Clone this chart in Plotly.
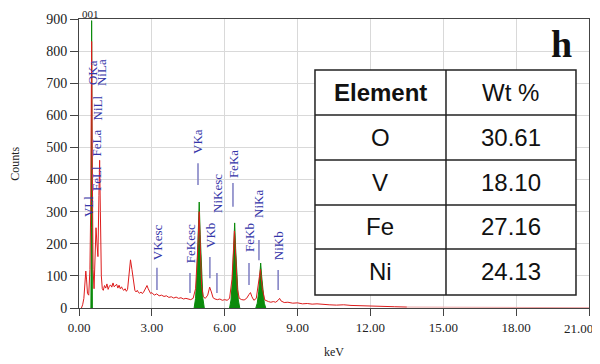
import plotly.graph_objects as go

# ---------------- data ----------------
energy_kev = [0.10, 0.15, 0.20, 0.25, 0.28, 0.31, 0.35, 0.40, 0.45, 0.48, 0.52, 0.55, 0.58, 0.62, 0.66,
              0.70, 0.74, 0.78, 0.82, 0.85, 0.88, 0.92, 0.96, 1.00, 1.05, 1.10, 1.15, 1.20, 1.25, 1.30,
              1.35, 1.40, 1.45, 1.50, 1.55, 1.60, 1.65, 1.70, 1.75, 1.80, 1.85, 1.90, 1.95, 2.00, 2.05,
              2.12, 2.18, 2.25, 2.30, 2.35, 2.40, 2.45, 2.50, 2.55, 2.60, 2.65, 2.70, 2.75, 2.80, 2.85,
              2.90, 2.95, 3.00, 3.05, 3.10, 3.20, 3.30, 3.40, 3.50, 3.60, 3.70, 3.80, 3.90, 4.00, 4.10,
              4.20, 4.30, 4.40, 4.50, 4.60, 4.70, 4.80, 4.90, 4.95, 5.00, 5.05, 5.12, 5.20, 5.30, 5.38,
              5.45, 5.52, 5.60, 5.70, 5.80, 5.90, 6.00, 6.10, 6.20, 6.30, 6.40, 6.46, 6.52, 6.60, 6.70,
              6.80, 6.90, 7.00, 7.06, 7.12, 7.20, 7.30, 7.40, 7.47, 7.55, 7.65, 7.80, 7.90, 8.00, 8.10,
              8.20, 8.26, 8.32, 8.45, 8.60, 8.80, 9.00, 9.20, 9.40, 9.60, 9.80, 10.00, 10.30, 10.60, 10.90,
              11.20, 11.50, 11.80, 12.10, 12.40, 12.70, 13.00, 13.50]
counts = [0, 10, 30, 70, 115, 90, 45, 40, 120, 300, 830, 400, 120, 60, 150,
          250, 200, 160, 350, 460, 300, 100, 60, 55, 70, 62, 75, 58, 68, 72,
          65, 78, 66, 70, 74, 62, 71, 60, 66, 58, 55, 60, 52, 58, 90,
          150, 120, 70, 55, 50, 55, 48, 46, 50, 45, 48, 55, 62, 70, 60,
          52, 45, 48, 42, 40, 44, 38, 40, 36, 38, 33, 35, 31, 34, 30,
          32, 28, 30, 27, 26, 30, 60, 200, 300, 180, 70, 35, 30, 40, 65,
          50, 32, 28, 26, 28, 24, 26, 24, 30, 90, 240, 150, 60, 30, 26,
          25, 30, 42, 48, 35, 24, 30, 90, 120, 60, 25, 20, 18, 20, 18,
          24, 30, 22, 17, 18, 15, 16, 13, 14, 12, 13, 11, 10, 9, 10,
          8, 7, 8, 6, 5, 5, 4, 3]

tail_kev = [13.50, 14.00, 15.00, 16.00, 17.00, 18.00, 19.00, 20.00, 21.00]
tail_counts = [3, 3, 2, 2, 1, 1, 1, 1, 1]

# fitted (green) peaks
o_kev = [0.49, 0.51, 0.52, 0.53, 0.55]
o_counts = [0, 250, 895, 250, 0]
v_kev = [4.74, 4.80, 4.86, 4.91, 4.95, 4.99, 5.04, 5.10, 5.16]
v_counts = [0, 30, 110, 230, 330, 230, 110, 30, 0]
fe_kev = [6.20, 6.26, 6.32, 6.37, 6.41, 6.45, 6.50, 6.56, 6.62]
fe_counts = [0, 25, 90, 185, 265, 185, 90, 25, 0]
ni_kev = [7.28, 7.34, 7.40, 7.45, 7.48, 7.52, 7.57, 7.63, 7.69]
ni_counts = [0, 15, 50, 100, 140, 100, 50, 15, 0]

# peak identification labels: name, energy, text-centre count, marker line bottom, marker line top
line_names = ["VKesc", "FeKesc", "VKa", "VKb", "NiKesc", "FeKa", "FeKb", "NiKa", "NiKb"]
line_kev = [3.21, 4.57, 4.90, 5.39, 5.68, 6.34, 7.00, 7.41, 8.20]
line_text_y = [205, 202, 517, 227, 358, 448, 218, 324, 193]
line_mark_lo = [56, 47, 383, 93, 47, 315, 72, 149, 56]
line_mark_hi = [125, 109, 451, 159, 109, 389, 140, 212, 118]

low_names = ["VLl", "FeLl", "FeLa", "NiLl", "OKa", "NiLa"]
low_kev = [0.42, 0.74, 0.72, 0.76, 0.58, 0.95]
low_text_y = [315, 405, 514, 623, 732, 732]

# composition table
elements = ["O", "V", "Fe", "Ni"]
wt_pct = ["30.61", "18.10", "27.16", "24.13"]

x_ticks = [0, 3, 6, 9, 12, 15, 18, 21]
x_tick_text = ["0.00", "3.00", "6.00", "9.00", "12.00", "15.00", "18.00", "21.00"]
y_ticks = [0, 100, 200, 300, 400, 500, 600, 700, 800, 900]

# ---------------- figure ----------------
GREEN = "#0a8a0a"
RED = "#dd1c1c"
BLUE = "#3535a8"
SERIF = "Liberation Serif"
SANS = "Liberation Sans"

fig = go.Figure()
for xs, ys in [(o_kev, o_counts), (v_kev, v_counts), (fe_kev, fe_counts), (ni_kev, ni_counts)]:
    fig.add_trace(go.Scatter(x=xs, y=ys, mode="lines", fill="tozeroy",
                             line=dict(color=GREEN, width=1), fillcolor=GREEN,
                             showlegend=False, hoverinfo="skip"))
fig.add_trace(go.Scatter(x=energy_kev, y=counts, mode="lines",
                         line=dict(color=RED, width=1), showlegend=False))
fig.add_trace(go.Scatter(x=tail_kev, y=tail_counts, mode="lines",
                         line=dict(color="#eba3a3", width=1), showlegend=False))

annotations = []
shapes = []
for name, xk, ty, lo, hi in zip(line_names, line_kev, line_text_y, line_mark_lo, line_mark_hi):
    annotations.append(dict(x=xk, y=ty, xref="x", yref="y", text=name, textangle=-90,
                            showarrow=False, font=dict(family=SERIF, size=13, color=BLUE)))
    shapes.append(dict(type="line", x0=xk, x1=xk, y0=lo, y1=hi, xref="x", yref="y",
                       line=dict(color="#7d7dc2", width=1.5)))
for name, xk, ty in zip(low_names, low_kev, low_text_y):
    annotations.append(dict(x=xk, y=ty, xref="x", yref="y", text=name, textangle=-90,
                            showarrow=False, font=dict(family=SERIF, size=13, color=BLUE)))

# table (positioned in paper fractions of the plot area)
tx0, tx1, tcol = 0.4627, 0.9745, 0.7196
row_edges = [0.8235, 0.6678, 0.5121, 0.3564, 0.2042, 0.045]
shapes.append(dict(type="rect", xref="paper", yref="paper", x0=tx0, x1=tx1,
                   y0=row_edges[-1], y1=row_edges[0], fillcolor="white",
                   line=dict(color="#222", width=1.5), layer="above"))
for ry in row_edges[1:-1]:
    shapes.append(dict(type="line", xref="paper", yref="paper", x0=tx0, x1=tx1,
                       y0=ry, y1=ry, line=dict(color="#222", width=1.5)))
shapes.append(dict(type="line", xref="paper", yref="paper", x0=tcol, x1=tcol,
                   y0=row_edges[-1], y1=row_edges[0], line=dict(color="#222", width=1.5)))

c1 = (tx0 + tcol) / 2
c2 = (tcol + tx1) / 2
rows_c = [(row_edges[i] + row_edges[i + 1]) / 2 for i in range(5)]
cell_font = dict(family=SANS, size=24, color="#111")
annotations.append(dict(x=c1, y=rows_c[0], xref="paper", yref="paper", text="<b>Element</b>",
                        xanchor="center", yanchor="middle", showarrow=False, font=cell_font))
annotations.append(dict(x=c2, y=rows_c[0], xref="paper", yref="paper", text="Wt %",
                        xanchor="center", yanchor="middle", showarrow=False, font=cell_font))
for i, (el, wt) in enumerate(zip(elements, wt_pct)):
    annotations.append(dict(x=c1, y=rows_c[i + 1], xref="paper", yref="paper", text=el,
                            xanchor="center", yanchor="middle", showarrow=False, font=cell_font))
    annotations.append(dict(x=c2, y=rows_c[i + 1], xref="paper", yref="paper", text=wt,
                            xanchor="center", yanchor="middle", showarrow=False, font=cell_font))

annotations.append(dict(x=0.947, y=0.914, xref="paper", yref="paper", text="<b>h</b>",
                        xanchor="center", yanchor="middle",
                        showarrow=False, font=dict(family=SERIF, size=38, color="#111")))
annotations.append(dict(x=0.0216, y=1.0, xref="paper", yref="paper", text="001",
                        xanchor="center", yanchor="bottom", yshift=-3, showarrow=False,
                        font=dict(family=SERIF, size=11, color="#222")))
annotations.append(dict(x=-0.127, y=0.5, xref="paper", yref="paper", text="Counts", textangle=-90,
                        xanchor="center", yanchor="middle",
                        showarrow=False, font=dict(family=SERIF, size=12, color="#222")))
annotations.append(dict(x=0.5, y=-0.152, xref="paper", yref="paper", text="keV",
                        xanchor="center", yanchor="middle",
                        showarrow=False, font=dict(family=SERIF, size=12, color="#222")))
# last x tick label drawn right-aligned so it stays inside the page edge
annotations.append(dict(x=x_ticks[-1], y=0, xref="x", yref="paper", text=x_tick_text[-1],
                        xanchor="right", yanchor="top", xshift=6, yshift=-11, showarrow=False,
                        font=dict(family=SERIF, size=13, color="#222")))
tick_text_shown = x_tick_text[:-1] + [""]

# the page body sits 8 px in from the top-left corner, so trim left/top margins by 8 px
fig.update_layout(
    width=592, height=356,
    margin=dict(l=71, r=11, t=11, b=56),
    paper_bgcolor="white", plot_bgcolor="white",
    annotations=annotations, shapes=shapes,
    xaxis=dict(range=[0, 21], tickvals=x_ticks, ticktext=tick_text_shown,
               showgrid=True, gridcolor="#d9d9d9", gridwidth=1,
               showline=True, linecolor="#444", linewidth=1, mirror=True,
               ticks="outside", ticklen=7, tickcolor="#444", zeroline=False,
               automargin=False,
               tickfont=dict(family=SERIF, size=13, color="#222")),
    yaxis=dict(range=[0, 900], tickvals=y_ticks,
               showgrid=True, gridcolor="#d9d9d9", gridwidth=1,
               showline=True, linecolor="#444", linewidth=1, mirror=True,
               ticks="outside", ticklen=8, tickcolor="#444", zeroline=False,
               automargin=False,
               tickfont=dict(family=SERIF, size=14, color="#222")),
)

fig.write_html("out.html")
